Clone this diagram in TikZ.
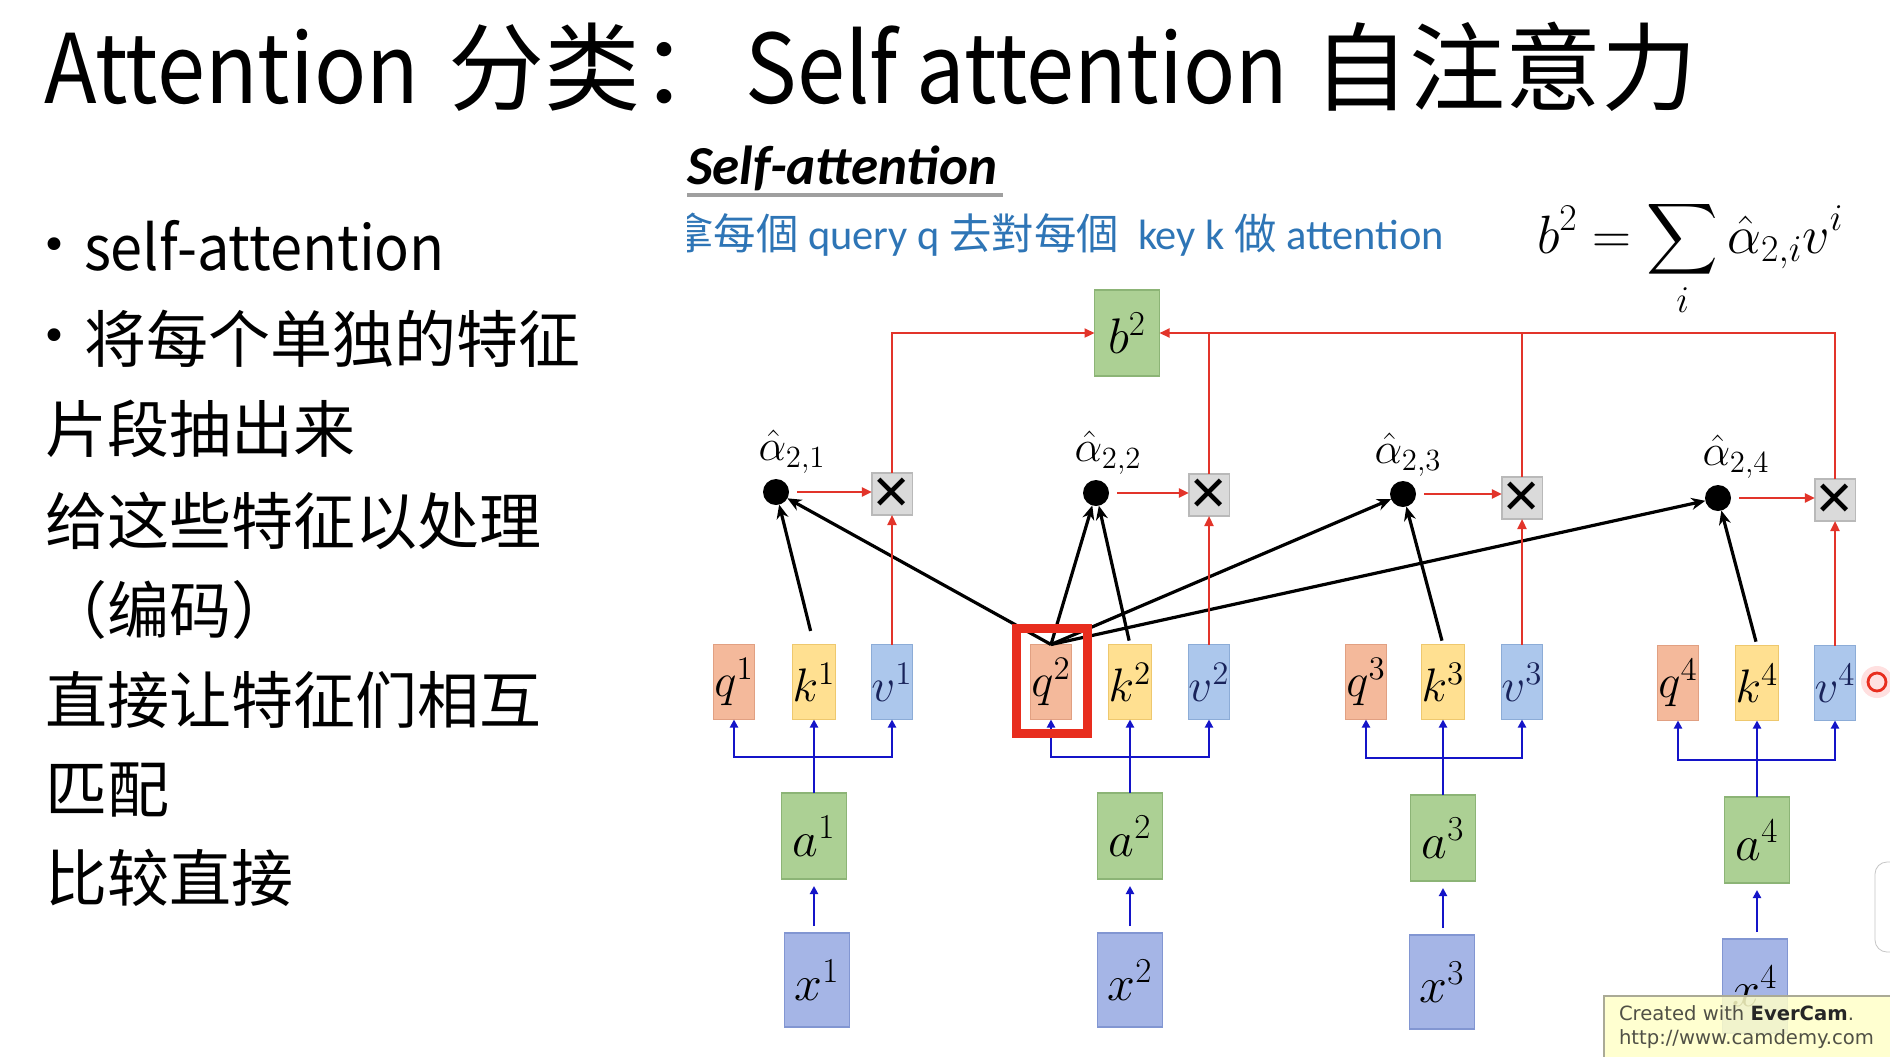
\RequirePackage{fix-cm}
\documentclass[tikz,border=0pt]{standalone}
\usepackage{exscale}
\usepackage{graphicx}
\usepackage[no-math]{fontspec}
\setmainfont{Carlito}
\newfontfamily\cjksc{Noto Sans CJK SC}
\newfontfamily\cjktc{Noto Sans CJK TC}
\newfontfamily\dejavu{DejaVu Sans}
\usetikzlibrary{arrows.meta}

\newcommand\setsize[1]{\fontsize{#1}{#1}\selectfont}
\newcommand\narrow[1]{\scalebox{0.9}[1]{#1}}

\definecolor{qfill}{RGB}{244,185,155}
\definecolor{qdraw}{RGB}{225,160,130}
\definecolor{kfill}{RGB}{255,224,145}
\definecolor{kdraw}{RGB}{238,200,110}
\definecolor{vfill}{RGB}{172,199,236}
\definecolor{vdraw}{RGB}{140,172,215}
\definecolor{gfill}{RGB}{172,208,148}
\definecolor{gdraw}{RGB}{140,180,118}
\definecolor{xfill}{RGB}{165,181,230}
\definecolor{xdraw}{RGB}{130,150,210}
\definecolor{mfill}{RGB}{218,218,218}
\definecolor{mdraw}{RGB}{185,185,185}
\definecolor{redline}{RGB}{226,52,42}
\definecolor{blueline}{RGB}{20,20,200}
\definecolor{hlred}{RGB}{232,45,30}
\definecolor{taskblue}{RGB}{46,117,182}
\definecolor{wmfill}{RGB}{255,255,200}
\definecolor{wmdraw}{RGB}{170,170,150}
\definecolor{wmtext}{RGB}{80,80,70}
\definecolor{vtext}{RGB}{25,35,90}

\begin{document}
\begin{tikzpicture}[x=0.5pt,y=-0.5pt,
  every node/.style={inner sep=0pt, outer sep=0pt},
  cell/.style={draw, line width=0.6pt},
  qkv/.style={cell, minimum width=20.5pt, minimum height=37.5pt, font=\setsize{23.5pt}},
  qbox/.style={qkv, fill=qfill, draw=qdraw},
  kbox/.style={qkv, fill=kfill, draw=kdraw},
  vbox/.style={qkv, fill=vfill, draw=vdraw, text=vtext},
  abox/.style={cell, fill=gfill, draw=gdraw, minimum width=32.5pt, minimum height=43pt, font=\setsize{25pt}},
  xbox/.style={cell, fill=xfill, draw=xdraw, minimum width=32.5pt, minimum height=47pt, font=\setsize{25pt}},
  mulbox/.style={cell, fill=mfill, draw=mdraw, minimum width=20pt, minimum height=21pt, font=\dejavu\setsize{24pt}},
  attdot/.style={circle, fill=black, minimum size=13pt},
  alab/.style={font=\setsize{22pt}},
  kline/.style={line width=1.6pt, -{Stealth[length=7pt,width=6pt]}},
  rline/.style={draw=redline, line width=1.1pt},
  rarrow/.style={rline, -{Triangle[length=5pt,width=4.5pt]}},
  bline/.style={draw=blueline, line width=1.4pt},
  barrow/.style={bline, -{Triangle[length=4pt,width=4pt]}},
  lefttext/.style={anchor=base west, font=\cjksc\setsize{31pt}},
  bulletmark/.style={font=\dejavu\setsize{22pt}},
]
% page
\fill[white] (0,0) rectangle (1890,1056);
\useasboundingbox (0,0) rectangle (1890,1056);

% title
\node[anchor=base west, font=\cjksc\setsize{48pt}] (title) at (44,103)
  {\narrow{Attention}\hspace{4pt} 分类：\hspace{4.5pt}\narrow{Self attention}\hspace{2pt} 自注意力};

% left column
\node[bulletmark] (b1) at (54,249) {•};
\node[lefttext] (t1) at (84,270) {\scalebox{0.93}[1]{self-attention}};
\node[bulletmark] (b2dot) at (54,340) {•};
\node[lefttext] (t2) at (84,362) {将每个单独的特征};
\node[lefttext] (t3) at (46,452) {片段抽出来};
\node[lefttext] (t4) at (46,544) {给这些特征以处理};
\node[lefttext] (t5) at (46,633) {（编码）};
\node[lefttext] (t6) at (46,723) {直接让特征们相互};
\node[lefttext] (t7) at (46,812) {匹配};
\node[lefttext] (t8) at (46,901) {比较直接};

% heading of the figure
\node[anchor=base west, font=\bfseries\itshape\setsize{27.5pt}] (head) at (687,184) {Self-attention};
\draw[gray!75, line width=2pt] (687,195) -- (1003,195);

\begin{scope}
  \clip (687,200) rectangle (1500,275);
  \node[anchor=base east, font=\setsize{21.2pt}, text=taskblue] (task) at (1444,249)
    {{\cjktc 拿每個} query q {\cjktc 去對每個}\ \ key k {\cjktc 做} attention};
\end{scope}

% formula
\node[anchor=base west, font=\setsize{27pt}] (formula) at (1537,253)
  {$\displaystyle b^2=\sum_i \hat{\alpha}_{2,i}v^i$};

% output
\node[abox] (b2) at (1127,333) {$b^2$};

% q k v rows
\node[qbox] (q1) at (734,682) {$q^1$};
\node[kbox] (k1) at (814,682) {$k^1$};
\node[vbox] (v1) at (892,682) {$v^1$};
\node[qbox] (q2) at (1051,682) {$q^2$};
\node[kbox] (k2) at (1130,682) {$k^2$};
\node[vbox] (v2) at (1209,682) {$v^2$};
\node[qbox] (q3) at (1366,682) {$q^3$};
\node[kbox] (k3) at (1443,682) {$k^3$};
\node[vbox] (v3) at (1522,682) {$v^3$};
\node[qbox] (q4) at (1678,683) {$q^4$};
\node[kbox] (k4) at (1757,683) {$k^4$};
\node[vbox] (v4) at (1835,683) {$v^4$};

% embeddings and inputs
\node[abox] (a1) at (814,836) {$a^1$};
\node[abox] (a2) at (1130,836) {$a^2$};
\node[abox] (a3) at (1443,838) {$a^3$};
\node[abox] (a4) at (1757,840) {$a^4$};
\node[xbox] (x1) at (817,980) {$x^1$};
\node[xbox] (x2) at (1130,980) {$x^2$};
\node[xbox] (x3) at (1442,982) {$x^3$};
\node[xbox] (x4) at (1755,986) {$x^4$};

% attention scores and products
\node[attdot] (d1) at (776,492) {};
\node[attdot] (d2) at (1096,493) {};
\node[attdot] (d3) at (1403,494) {};
\node[attdot] (d4) at (1718,498) {};
\node[alab] (l1) at (792,452) {$\hat{\alpha}_{2,1}$};
\node[alab] (l2) at (1108,453) {$\hat{\alpha}_{2,2}$};
\node[alab] (l3) at (1408,455) {$\hat{\alpha}_{2,3}$};
\node[alab] (l4) at (1736,457) {$\hat{\alpha}_{2,4}$};
\node[mulbox] (m1) at (892,494) {✕};
\node[mulbox] (m2) at (1209,495) {✕};
\node[mulbox] (m3) at (1522,498) {✕};
\node[mulbox] (m4) at (1835,500) {✕};

% x -> a
\foreach \i in {1,2,3,4}
  \draw[barrow, shorten <=3.5pt, shorten >=3.5pt] (x\i.north -| a\i.south) -- (a\i.south);

% a -> q, k, v
\coordinate (j1) at (814,757);
\coordinate (j2) at (1130,757);
\coordinate (j3) at (1443,758);
\coordinate (j4) at (1757,760);
\foreach \i in {1,2,3,4}{
  \draw[bline] (a\i.north) -- (j\i);
  \draw[barrow] (j\i) -- (k\i.south);
  \draw[barrow] (j\i) -| (q\i.south);
  \draw[barrow] (j\i) -| (v\i.south);
}

% query 2 against every key
\draw[kline, shorten <=7pt] (k1.north) -- (d1);
\draw[kline] (q2.north) -- (d1);
\draw[kline] (q2.north) -- (d2);
\draw[kline, shorten <=2pt] (k2.north) -- (d2);
\draw[kline] (q2.north) -- (d3);
\draw[kline, shorten <=2pt] (k3.north) -- (d3);
\draw[kline] (q2.north) -- (d4);
\draw[kline, shorten <=2pt] (k4.north) -- (d4);

% weighting of the values
\foreach \i in {1,2,3,4}{
  \draw[rarrow, shorten <=4pt] (d\i.east) -- (m\i.west |- d\i.east);
  \draw[rarrow] (v\i.north) -- (m\i.south);
}
\draw[rarrow] (m1.north) |- (b2.west);
\draw[rline] (m2.north) -- (m2.north |- b2.east);
\draw[rline] (m3.north) -- (m3.north |- b2.east);
\draw[rarrow] (m4.north) |- (b2.east);

% highlight of the current query
\node[draw=hlred, line width=4.5pt, minimum width=35.5pt, minimum height=52.5pt] (hl) at (1051.5,680.5) {};

% pointer mark
\node[circle, fill=red!12, minimum size=16pt] (glow) at (1877,682) {};
\node[circle, draw=hlred, line width=1.4pt, minimum size=9pt] (pointer) at (1877,682) {};

% side panel edge
\draw[gray!45, fill=white, rounded corners=6pt] (1875,862) rectangle (1940,952);

% recording stamp
\node[anchor=north west, fill=wmfill, fill opacity=0.85, draw=wmdraw, line width=0.8pt,
      minimum width=145pt, minimum height=31pt] (wm) at (1604,996) {};
\node[anchor=base west, font=\dejavu\setsize{9.8pt}, text=wmtext] (wm1) at (1619,1020)
  {Created with {\bfseries\color{black!85}EverCam}.};
\node[anchor=base west, font=\dejavu\setsize{9.8pt}, text=wmtext] (wm2) at (1619,1044)
  {http://www.camdemy.com};
\end{tikzpicture}
\end{document}
